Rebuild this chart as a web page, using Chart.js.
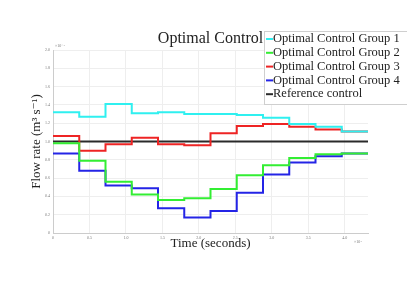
<!DOCTYPE html>
<html><head><meta charset="utf-8">
<script src="https://cdn.jsdelivr.net/npm/chart.js@4"></script>
<style>html,body{margin:0;padding:0;background:#fff}#c{display:block}</style>
</head><body>
<div style="width:407px;height:288px"><canvas id="c" width="407" height="288"></canvas></div>
<script>
const stepTimes = [0,0.36,0.72,1.08,1.44,1.8,2.16,2.52,2.88,3.24,3.6,3.96,4.32];
const seriesNames = ['Optimal Control Group 1','Optimal Control Group 2','Optimal Control Group 3','Optimal Control Group 4','Reference control'];
const group1 = [1.32,1.27,1.41,1.31,1.32,1.30,1.30,1.29,1.26,1.19,1.16,1.11];
const group2 = [0.98,0.79,0.56,0.42,0.36,0.38,0.48,0.63,0.74,0.82,0.86,0.87];
const group3 = [1.06,0.90,0.97,1.04,0.97,0.96,1.09,1.17,1.19,1.16,1.13,1.11];
const group4 = [0.87,0.68,0.52,0.49,0.27,0.17,0.24,0.44,0.64,0.77,0.84,0.87];
const reference = [1,1,1,1,1,1,1,1,1,1,1,1];
const yTicks = [0,0.2,0.4,0.6,0.8,1,1.2,1.4,1.6,1.8,2];
const xTicks = [0,0.5,1,1.5,2,2.5,3,3.5,4];
const colors = ['#2ff0f0','#33ee33','#ee2424','#2424e6','#2a2a2a'];

function toPts(vals){
  const p = vals.map((v,i)=>({x:stepTimes[i],y:v}));
  p.push({x:stepTimes[stepTimes.length-1],y:vals[vals.length-1]});
  return p;
}
const allVals=[group1,group2,group3,group4,reference];
const datasets = allVals.map((v,i)=>({label:seriesNames[i],data:toPts(v),borderColor:colors[i],backgroundColor:colors[i],borderWidth:2,pointRadius:0,stepped:'before',fill:false}));

const serif = "'Liberation Serif','DejaVu Serif',serif";
const extras = {
  id:'extras',
  afterDraw(chart){
    const ctx=chart.ctx, ca=chart.chartArea;
    ctx.save();
    ctx.fillStyle='#222';
    ctx.font='16px '+serif;
    ctx.textAlign='center';ctx.textBaseline='alphabetic';
    ctx.fillText('Optimal Control',(ca.left+ca.right)/2,43);
    ctx.fillStyle='#777';
    ctx.font='4px '+serif;
    ctx.textAlign='left';
    ctx.fillText('×10⁻⁴',ca.left+2,ca.top-3);
    ctx.fillText('×10⁴',ca.right-14,ca.bottom+10);
    const bx=264,by=31,bw=150,bh=73;
    ctx.fillStyle='#fff';ctx.fillRect(bx,by,bw,bh);
    ctx.strokeStyle='#cfcfcf';ctx.lineWidth=1;ctx.strokeRect(bx+0.5,by+0.5,bw,bh);
    ctx.font='12.5px '+serif;ctx.textBaseline='middle';
    chart.data.datasets.forEach((ds,i)=>{
      const y=by+8+i*13.8;
      ctx.strokeStyle=ds.borderColor;ctx.lineWidth=2;
      ctx.beginPath();ctx.moveTo(bx+2,y);ctx.lineTo(bx+9,y);ctx.stroke();
      ctx.fillStyle='#222';ctx.textAlign='left';
      ctx.fillText(ds.label,bx+9,y);
    });
    ctx.restore();
  }
};

new Chart(document.getElementById('c'),{
  type:'line',
  data:{datasets},
  options:{
    responsive:false,animation:false,
    layout:{padding:{left:29,right:39,top:50,bottom:37}},
    plugins:{legend:{display:false},title:{display:false},tooltip:{enabled:false}},
    scales:{
      x:{type:'linear',min:0,max:4.32,
        afterBuildTicks:s=>{s.ticks=xTicks.map(v=>({value:v}));},
        afterFit:s=>{s.height=18;},
        grid:{color:'#eeeeee',drawTicks:false,tickLength:0},
        border:{color:'#cccccc'},
        ticks:{font:{size:4,family:serif},color:'#777',padding:3,maxRotation:0},
        title:{display:true,text:'Time (seconds)',font:{size:13,family:serif},color:'#222',padding:{top:0,bottom:0}}
      },
      y:{type:'linear',min:0,max:2,
        afterBuildTicks:s=>{s.ticks=yTicks.map(v=>({value:v}));},
        afterFit:s=>{s.width=24;},
        grid:{color:'#eeeeee',drawTicks:false,tickLength:0},
        border:{color:'#cccccc'},
        ticks:{font:{size:4,family:serif},color:'#777',padding:3},
        title:{display:true,text:'Flow rate (m³ s⁻¹)',font:{size:13,family:serif},color:'#222',padding:{top:0,bottom:0}}
      }
    }
  },
  plugins:[extras]
});
</script>
</body></html>
